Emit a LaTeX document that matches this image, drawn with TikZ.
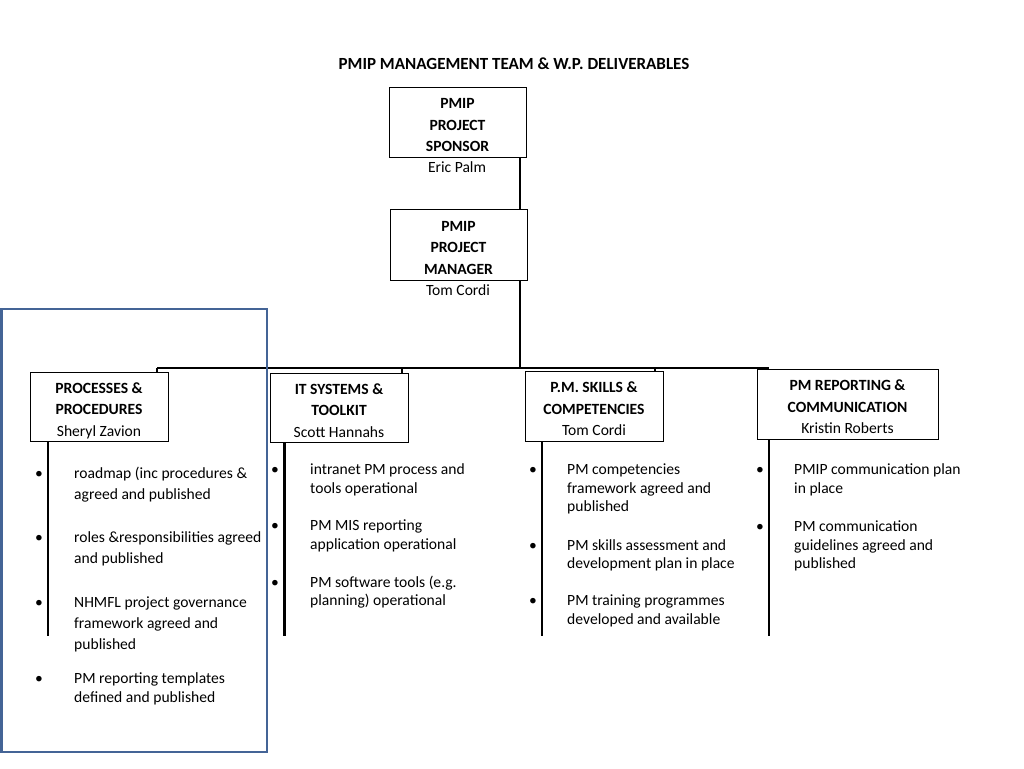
\documentclass[tikz,border=0pt]{standalone}
\usepackage{fontspec}
\setmainfont{Carlito}
\usetikzlibrary{positioning}
\definecolor{frameblue}{RGB}{68,100,150}
\tikzset{
  role/.style={draw, line width=0.8pt, align=center, inner sep=0pt,
    minimum width=138pt, minimum height=70pt, text height=59pt, text depth=0pt,
    font=\bfseries\fontsize{15.6}{21.5}\selectfont},
  person/.style={inner sep=0pt, font=\fontsize{15.6}{21.5}\selectfont},
  link/.style={line width=2.2pt},
  % base = baseline of the last line
  item/.style={anchor=base west, align=left, inner sep=0pt, yshift=-2pt,
    font=\fontsize{15.6}{18.7}\selectfont},
  itemwide/.style={item, font=\fontsize{15.6}{21}\selectfont},
  dot/.style={anchor=base, inner sep=0pt, yshift=-2pt, font=\fontsize{15.6}{18.7}\selectfont},
}
\begin{document}
\begin{tikzpicture}[x=1pt, y=-1pt]
  \useasboundingbox (0,0) rectangle (1024,768);

  % Title
  \node[font=\bfseries\fontsize{17}{20}\selectfont] (title) at (514,64)
    {PMIP MANAGEMENT TEAM \& W.P. DELIVERABLES};

  % Sponsor and manager
  \node[role, minimum width=137pt] (sponsor) at (457.5,122) {PMIP\\PROJECT\\SPONSOR};
  \node[person] (sponsorname) at (457,167) {Eric Palm};
  \node[role, minimum width=137pt, minimum height=71pt] (manager) at (458.5,244.5) {PMIP\\PROJECT\\MANAGER};
  \node[person] (managername) at (458,290) {Tom Cordi};

  % Work package leads
  \node[role, minimum height=69pt] (processes) at (99,406.5) {PROCESSES \&\\PROCEDURES\\\mdseries Sheryl Zavion};
  \node[role, minimum height=69pt] (itsys) at (339,407.5) {IT SYSTEMS \&\\TOOLKIT\\\mdseries Scott Hannahs};
  \node[role] (skills) at (594,406) {P.M. SKILLS \&\\COMPETENCIES\\\mdseries Tom Cordi};
  \node[role, minimum width=181pt] (reporting) at (847.5,404) {PM REPORTING \&\\COMMUNICATION\\\mdseries Kristin Roberts};

  % Connectors
  \coordinate (bus-l) at (157,368);
  \coordinate (bus-m) at (520,368);
  \coordinate (bus-r) at (769,368);
  \coordinate (it-drop) at (402,368);
  \coordinate (sk-drop) at (655,368);
  \draw[link] (sponsor.south -| bus-m) -- (manager.north -| bus-m);
  \draw[link] (manager.south -| bus-m) -- (bus-m);
  \draw[link] (bus-l) -- (bus-r);
  \draw[link] (bus-l) -- (processes.north -| bus-l);
  \draw[link] (it-drop) -- (itsys.north -| it-drop);
  \draw[link] (sk-drop) -- (skills.north -| sk-drop);

  % Stems below the leads
  \coordinate (pp-end) at (48,636);
  \coordinate (it-end) at (284.5,636);
  \coordinate (sk-end) at (542,636);
  \coordinate (rp-end) at (769,636);
  \draw[link] (processes.south -| pp-end) -- (pp-end);
  \draw[link] (itsys.south -| it-end) -- (it-end);
  \draw[link] (skills.south -| sk-end) -- (sk-end);
  \draw[link] (reporting.south -| rp-end) -- (rp-end);

  % Processes & procedures deliverables
  \node[dot] (b-pp1) at (39,476) {\textbullet};
  \node[itemwide] (pp1) at (74,497) {roadmap (inc procedures \&\\agreed and published};
  \node[dot] (b-pp2) at (39,540) {\textbullet};
  \node[itemwide] (pp2) at (74,561) {roles \&responsibilities agreed\\and published};
  \node[dot] (b-pp3) at (39,605) {\textbullet};
  \node[itemwide] (pp3) at (74,647) {NHMFL project governance\\framework agreed and\\published};
  \node[dot] (b-pp4) at (39,681.5) {\textbullet};
  \node[item] (pp4) at (74,700.5) {PM reporting templates\\defined and published};

  % IT systems deliverables
  \node[dot] (b-it1) at (275,472.5) {\textbullet};
  \node[item] (it1) at (310,491.2) {intranet PM process and\\tools operational};
  \node[dot] (b-it2) at (275,528.5) {\textbullet};
  \node[item] (it2) at (310,547.2) {PM MIS reporting\\application operational};
  \node[dot] (b-it3) at (275,585) {\textbullet};
  \node[item] (it3) at (310,603.7) {PM software tools (e.g.\\planning) operational};

  % Skills deliverables
  \node[dot] (b-sk1) at (533,472.5) {\textbullet};
  \node[item] (sk1) at (567,509.9) {PM competencies\\framework agreed and\\published};
  \node[dot] (b-sk2) at (533,548) {\textbullet};
  \node[item] (sk2) at (567,566.7) {PM skills assessment and\\development plan in place};
  \node[dot] (b-sk3) at (533,603.5) {\textbullet};
  \node[item] (sk3) at (567,622.2) {PM training programmes\\developed and available};

  % Reporting deliverables
  \node[dot] (b-rp1) at (760,472.5) {\textbullet};
  \node[item] (rp1) at (794,491.2) {PMIP communication plan\\in place};
  \node[dot] (b-rp2) at (760,529.5) {\textbullet};
  \node[item] (rp2) at (794,566.9) {PM communication\\guidelines agreed and\\published};

  % Frame round the first work package
  \draw[frameblue, line width=2.5pt] (1.5,309) rectangle (267,752);
\end{tikzpicture}
\end{document}
